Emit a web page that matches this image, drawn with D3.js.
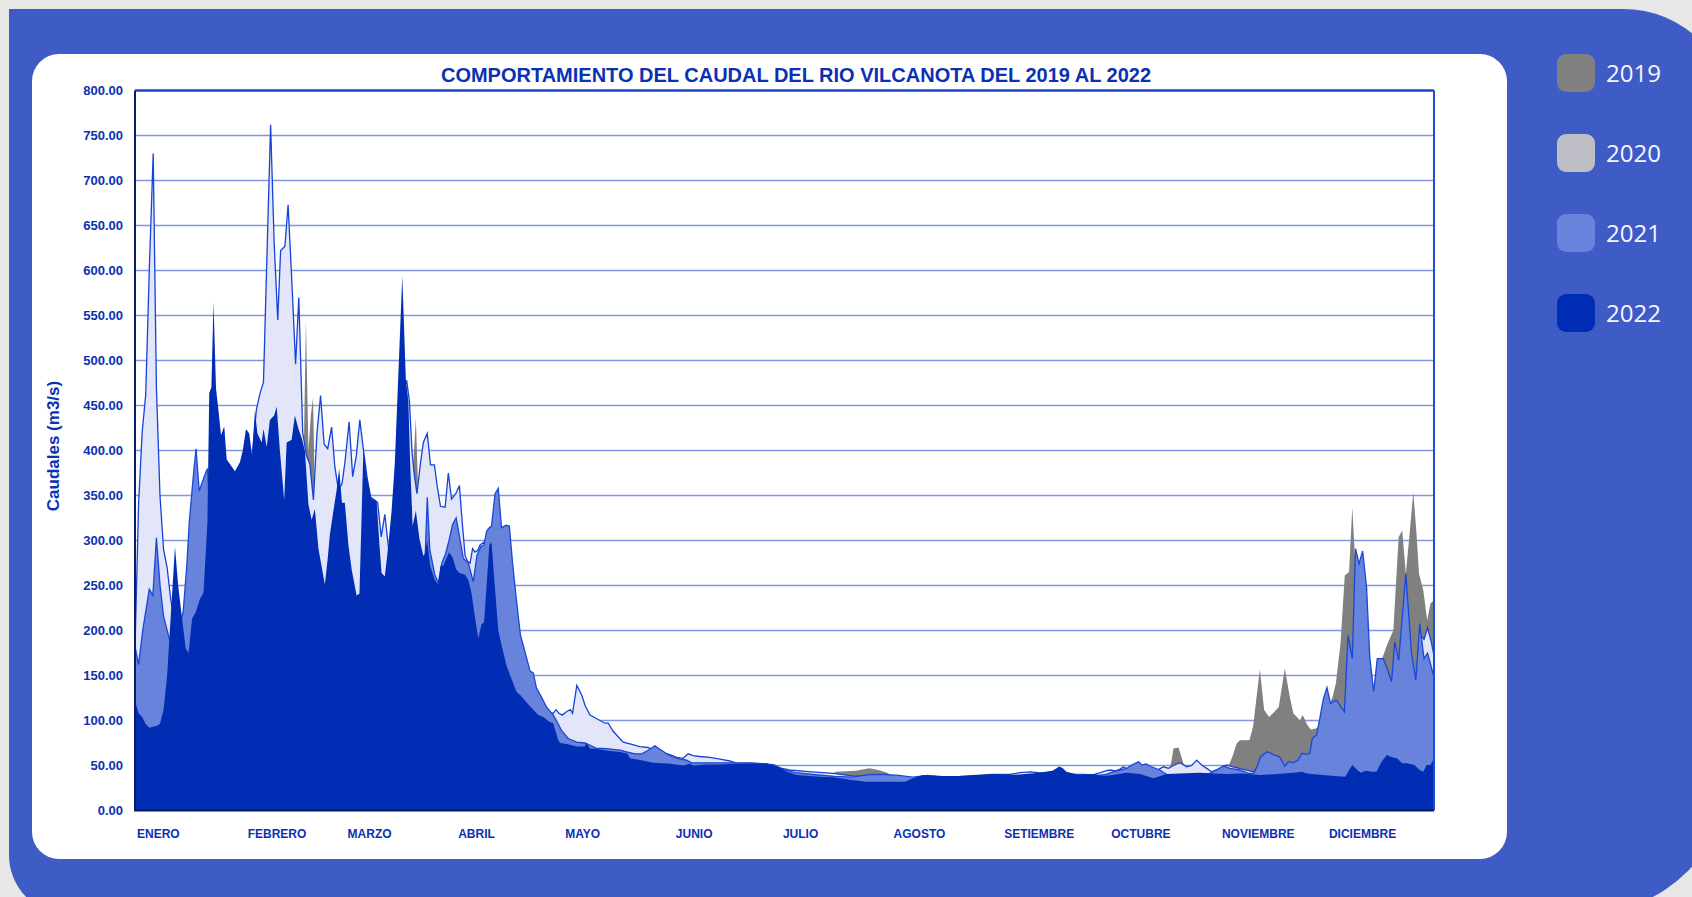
<!DOCTYPE html>
<html>
<head>
<meta charset="utf-8">
<script src="https://cdn.jsdelivr.net/npm/d3@7"></script>
<style>
  body { margin: 0; background: #e7e7e7; }
  svg { display: block; }
</style>
</head>
<body>
<svg id="chart"></svg>
<script>
// month labels and the day of year where each one starts
const monthNames = ["ENERO", "FEBRERO", "MARZO", "ABRIL", "MAYO", "JUNIO", "JULIO",
                    "AGOSTO", "SETIEMBRE", "OCTUBRE", "NOVIEMBRE", "DICIEMBRE"];
const monthStartDays = [0, 31, 59, 90, 120, 151, 181, 212, 243, 273, 304, 334];
const yTicks = d3.range(0, 801, 50);
const years = ["2019", "2020", "2021", "2022"];

// daily flow as [day of year, m3/s] at each turning point
const flow2019 = [
  [0,150],[5,140],[10,150],[14,150],[17,160],[20,200],[22,220],[25,250],[30,280],[35,300],[40,320],[44,330],
  [46,370],[47.3,400],[47.9,545],[48.6,400],[49.3,440],[49.9,459],[50.4,345],[51,300],[52,250],[55,260],[60,240],
  [62,230],[65,255],[70,240],[75,280],[77.5,360],[78.2,400],[78.7,436],[79.3,360],[80,300],[85,240],[90,230],
  [95,200],[100,200],[105,180],[108,150],[111,120],[115,95],[120,72],[125,68],[130,62],[140,55],[150,50],[160,47],
  [170,48],[178,47],[183,40],[190,38],[195,40],[196.5,43],[202,44.3],[205.8,47],[208.3,45],[210.8,42],[213,36],
  [220,35],[230,36],[240,37],[250,38],[260,38],[270,37],[280,38],[288,40],[290,45],[291,69],[292.4,70],[293.8,52.3],
  [295,47],[300,38],[305,40],[306.5,50],[307.7,62],[308.7,74.5],[309.6,78],[311,78],[312.3,78.3],[313.3,93],
  [315.2,157],[316.4,111.6],[317.8,104],[319.3,109.7],[320.5,115],[322.2,157.8],[323.6,126],[324.6,107.8],
  [325.6,104],[326.4,100],[327.2,106],[328.5,95],[329.5,90],[330.9,91],[332,93],[333.5,110],[335.5,125],
  [336.5,141],[337.8,185.5],[339,261],[340.2,265],[341.1,337],[341.8,285],[343,260],[344,200],[345.5,150],
  [347,120],[348.5,160],[349.8,172.5],[351,185.5],[352.6,200],[354.1,304],[355.1,311],[356.1,263],[357,300],
  [358.2,353.7],[359.1,307.5],[359.8,263],[361,244.7],[362.1,211.4],[363,229.9],[364,234]
];

const flow2020 = [
  [0,180],[1,340],[2,420],[3,462],[4,600],[5.1,730],[6,470],[7,350],[8,290],[9,270],[10,235],[10.8,215],
  [11.5,200],[14,160],[17,200],[20,250],[25,300],[30,330],[32.5,380],[33,400],[34,445],[35,463],[36,476],
  [37,620],[38,762],[39,630],[40,545],[40.8,622],[42,627],[42.9,673],[43.9,592],[45,496],[45.9,570],[47,420],
  [48,395],[49,385],[50,345],[51,420],[52,461],[53,407],[54,402],[55.1,426],[56,382],[57,356],[58,363],
  [58.8,386],[60,432],[61,371],[62,394],[63,434],[64,401],[65,371],[66,348],[66.8,346],[68,342],[69,304],
  [70,329],[71,293],[72,300],[74,380],[75.5,470],[76.1,478],[76.9,455],[77.6,400],[78.2,375],[79,352],[80,386],
  [80.8,409],[81.9,419],[82.8,384],[83.9,384],[84.7,360],[85.6,338],[86.9,337],[87.8,375],[88.7,346],
  [89.9,352],[90.9,361],[91.7,320],[92.5,283],[93.2,277],[93.9,275],[94.6,291],[95.3,287],[96,289],[96.7,295],
  [97.8,298],[99,290],[102,250],[106,200],[110,140],[114,112],[117.2,108],[118,112],[118.8,108],[119.7,106],
  [121,110],[122,112],[122.6,108],[123.8,139],[125.2,128],[126.1,117],[127.5,106],[130.3,100],[131.7,97],
  [132.6,97],[134,88],[135.4,82],[136.8,76],[138.7,74],[141.5,71],[143.8,70],[145.2,67],[147.1,65],[149.9,62],
  [151.8,59],[153.6,58],[155,63],[156.4,61],[158.3,60],[161.1,59],[163.9,57],[166.7,55],[169,52],[172.3,53],
  [175.1,52],[178.9,51],[181,47],[183.3,45],[189.6,43],[195.8,41.3],[200.8,38.4],[205,38],[210,37],[215,36],
  [220,35],[225,36],[230,37],[235,38],[240,40],[245,40],[248,42],[250.9,43],[253,42],[256,41],[260,40],[265,38],
  [268,39],[270.5,42],[272,44],[273.2,45],[274.8,44],[276,46],[277,48.6],[279,44],[282,40],[285,42],[287,46],
  [288.2,48.6],[289.6,46.8],[291,50],[292.8,53.1],[294.7,48.6],[296.1,50],[297.5,56],[298.9,50.5],[300.3,46.8],
  [301.7,43],[303.5,46],[305.9,50.5],[307.7,48.6],[310.6,45.7],[313.4,43],[314.6,48.6],[315.2,50.5],[316,45],
  [329,45],[333,70],[338,100],[342,115],[345,120],[350,125],[355,130],[358,135],[359,140],[360,196],
  [361.2,190],[362.2,203],[363.2,188],[364,172]
];

const flow2021 = [
  [0,182],[1,162],[2.2,201],[4,246],[5,239],[6,303],[7,251],[8,216],[9.6,191],[10.5,175],[11.5,180],[12.5,205],
  [13.5,221],[14.5,271],[15.2,320],[16.3,370],[17.1,402],[18,355],[19.3,370],[20.3,380],[21,330],[25,300],
  [30,280],[35,280],[40,270],[45,260],[50,230],[55,230],[60,225],[62,220],[65,230],[70,230],[75,240],[80,245],
  [81.2,270],[81.9,348],[82.6,290],[84,262],[85,253],[86,275],[87,285],[88,300],[89,318],[90,325],[90.9,305],
  [92,280],[93.4,275],[94.8,254],[95.8,283],[96.9,293],[97.8,295],[98.5,310],[99.2,314],[99.9,316],
  [100.9,352],[101.8,358],[102.7,314],[103.9,317],[104.9,316],[105.8,275],[106.9,233],[108,195],[109.3,176],
  [110.7,155],[111.6,153],[112.5,136],[113.9,126],[115.3,115],[117.2,106],[118.1,100],[119.5,89],[121.4,80],
  [123.8,76],[126.1,75],[129.3,69],[131.2,69],[134,68],[135.9,67],[137.8,65],[140.1,63],[142,63],[143.8,67],
  [145.7,72],[147.1,68],[149,63],[150.4,60],[152.7,57],[154.6,56],[156,53],[160,53],[165,53],[170,53],[177,52],
  [181,46],[185,42],[190,40],[196,38],[201,37],[204,39],[206,40],[210,40],[214,39],[218,37],[222,39],[228,37],
  [232,38],[240,38],[250,39],[257,42],[262,40],[266,40],[270,39],[272,40],[274.1,43],[276,45],[277.9,46.8],
  [279.3,50.5],[281.2,54.2],[282.2,50.5],[283.3,51.6],[284.8,48.6],[287.2,45],[288.6,41.2],[290,38],[295,38],
  [300,39],[303.1,45],[305,49.4],[306.8,46.8],[309.6,45],[312,41.2],[313.5,41.3],[314.4,48.7],[315.4,59.8],
  [317.2,65.3],[319.3,61.6],[320.7,59.8],[322.2,49.4],[323.2,54.2],[324.6,53.1],[325.9,56],[327,63.5],
  [328,62.7],[329.2,63.5],[329.9,80],[331.1,84],[331.9,100],[333,124],[334,136.7],[335,119],[335.8,120.8],
  [336.7,122.6],[337.9,115.2],[338.9,109.7],[339.9,194.7],[341.1,168.8],[342,290.9],[343,274.2],[344,288.3],
  [345.1,248.3],[346,170.7],[347.1,131.9],[348.1,168.8],[349.8,168.8],[350.9,157.7],[352.1,143],[353,187.3],
  [354.1,167],[356.1,263.1],[357.7,174.4],[358.9,144.8],[360,207.7],[361.2,168.8],[362.2,175],[363.2,160],
  [364,148]
];

const flow2022 = [
  [0,122],[1,108],[2,104],[3,96],[4,92],[5,93],[6,94],[7,96],[8,112],[9,150],[10,215],[11.2,293],[12.1,250],
  [13.1,216],[14.2,180],[15,175],[16,213],[17,220],[18.2,235],[19.2,242],[20.3,320],[20.8,464],[21.4,470],
  [22,565],[22.7,469],[23.4,444],[24.1,417],[25,427],[25.7,390],[26.6,385],[28,377],[29.4,387],[30.2,400],
  [31.1,424],[32,419],[32.8,395],[33.6,444],[34.3,419],[35.5,409],[36,424],[36.9,404],[37.8,434],[39,439],
  [39.7,449],[40.6,400],[41.8,345],[42.5,409],[43.9,412],[44.8,439],[45.8,424],[46.7,414],[47.6,400],[48.6,340],
  [49.5,323],[50.4,335],[51.4,291],[52.3,271],[53.2,251],[54,280],[54.6,306],[55.6,333],[56.5,356],[57.2,380],
  [58,342],[58.8,342],[59.8,295],[60.7,268],[62.1,239],[62.9,241],[64,401],[64.9,371],[66.3,346],[67.7,344],
  [68.5,295],[69.1,264],[70,260],[71,295],[71.9,333],[72.8,386],[73.8,485],[74.9,594],[75.9,478],[76.6,455],
  [77.1,386],[77.8,316],[78.7,333],[79.7,302],[80.8,283],[81.2,285],[81.9,300],[82.7,272],[84,256],[85,251],
  [85.6,272],[86.4,272],[88,287],[89,281],[90,268],[90.9,264],[92.5,262],[93.4,256],[94.3,241],[95.3,214],
  [96.2,191],[97.1,207],[97.8,209],[98.5,249],[99.3,295],[99.9,298],[100.8,250],[101.8,200],[102.7,184],
  [104.1,161],[105.5,146],[106.9,132],[108,128],[110,119],[111.6,112],[113,106],[114.4,104],[116,99],[117.2,97],
  [118.6,78],[119.1,75],[121,74],[123.8,71],[126,71],[126.5,75],[127.5,69],[130,68],[133,66],[136,65],[138,63],
  [138.7,58],[141.5,56],[145.2,53],[150,52],[153.6,50],[155.5,52],[156.5,50],[160,51],[164,51],[168,52],[173,52],
  [177,52],[179,50],[181,47],[182.6,43],[185.4,39.5],[189,38.4],[192,37.6],[195.8,37],[200.8,34],[205,32],
  [210.8,32],[215.8,32],[218,35.8],[220.8,39.5],[225,38.4],[230.9,38.4],[234.6,39.5],[240,40.6],[245.9,39.5],
  [252,41.3],[257.1,44.3],[259,49],[260,47],[261,43],[264.6,39.5],[268.5,40.5],[271.3,38.3],[274,39.4],
  [277.9,42],[281.6,40.5],[285.4,35.7],[289.1,40.5],[292.8,41.2],[298.4,42],[302.2,41.2],[305.9,40.5],[310,41.2],
  [315.2,39.4],[319.9,40.5],[324.6,42],[327,43.1],[328.3,41.2],[332.9,39.4],[336,38.3],[339.1,37.6],
  [341.1,50.5],[342.5,45],[343.5,42],[344.9,44.3],[346.5,43],[347.9,43.1],[349.3,54.2],[350.8,61.6],
  [351.9,59.8],[353.7,57.9],[355.1,52.4],[356.5,52.4],[358.5,50.5],[360,45],[361,43.1],[361.9,50.5],[363,50.5],
  [364,58]
];

const seriesList = [flow2019, flow2020, flow2021, flow2022];
const fillColors = ["#808080", "#e3e6f9", "#6783db", "#002db3"];
const swatchColors = ["#808080", "#bdbec6", "#6783db", "#002db5"];
const edgeColors = [null, "#1543d6", "#1a47d8", null];

const W = 1692, H = 897;
const plot = { left: 135, right: 1434, top: 90.5, bottom: 810.5 };
const ink = "#0a31b3";

const svg = d3.select("#chart").attr("width", W).attr("height", H);

// outer blue card, square top-left, rounded elsewhere
svg.append("path")
   .attr("d", "M9,9 H1623 A110,110 0 0 1 1733,119 V763 A152,152 0 0 1 1581,915 H69 A60,60 0 0 1 9,855 Z")
   .attr("fill", "#3f5bc6");

svg.append("rect")
   .attr("x", 32).attr("y", 54)
   .attr("width", 1475).attr("height", 805)
   .attr("rx", 27)
   .attr("fill", "#ffffff");

const xScale = d3.scaleLinear().domain([0, 364]).range([plot.left, plot.right]);
const yScale = d3.scaleLinear().domain([0, 800]).range([plot.bottom, plot.top]);

// gridlines
svg.append("g")
   .selectAll("line")
   .data(yTicks.filter(v => v > 0))
   .enter()
   .append("line")
   .attr("x1", plot.left).attr("x2", plot.right)
   .attr("y1", d => yScale(d)).attr("y2", d => yScale(d))
   .attr("stroke", "#7f97e3")
   .attr("stroke-width", 1.6);

const area = d3.area()
               .x(d => xScale(d[0]))
               .y0(yScale(0))
               .y1(d => yScale(d[1]));
const line = d3.line()
               .x(d => xScale(d[0]))
               .y(d => yScale(d[1]));

seriesList.forEach((s, i) => {
    svg.append("path")
       .datum(s)
       .attr("d", area)
       .attr("fill", fillColors[i]);
    if (edgeColors[i]) {
        svg.append("path")
           .datum(s)
           .attr("d", line)
           .attr("fill", "none")
           .attr("stroke", edgeColors[i])
           .attr("stroke-width", 1.3)
           .attr("stroke-linejoin", "miter");
    }
});

// frame: blue on top/right, dark axis lines on left/bottom
svg.append("line")
   .attr("x1", plot.left).attr("x2", plot.right)
   .attr("y1", plot.top).attr("y2", plot.top)
   .attr("stroke", "#1d4bd6").attr("stroke-width", 2.5);
svg.append("line")
   .attr("x1", plot.right).attr("x2", plot.right)
   .attr("y1", plot.top).attr("y2", plot.bottom)
   .attr("stroke", "#1d4bd6").attr("stroke-width", 2);
svg.append("line")
   .attr("x1", plot.left).attr("x2", plot.left)
   .attr("y1", plot.top).attr("y2", plot.bottom)
   .attr("stroke", "#071c63").attr("stroke-width", 2);
svg.append("line")
   .attr("x1", plot.left - 1).attr("x2", plot.right)
   .attr("y1", plot.bottom).attr("y2", plot.bottom)
   .attr("stroke", "#071c63").attr("stroke-width", 2);

// y tick labels
const yAxis = d3.axisLeft(yScale)
                .tickValues(yTicks)
                .tickFormat(d3.format(".2f"))
                .tickSize(0)
                .tickPadding(12);
const yAxisG = svg.append("g")
                  .attr("transform", `translate(${plot.left},0)`)
                  .call(yAxis);
yAxisG.select(".domain").remove();
yAxisG.selectAll("text")
      .attr("fill", ink)
      .style("font", "bold 13px 'Liberation Sans', Arial, sans-serif");

// month labels, left aligned at month start
svg.append("g")
   .selectAll("text")
   .data(monthNames)
   .enter()
   .append("text")
   .attr("x", (d, i) => xScale(monthStartDays[i]) + 2)
   .attr("y", 838)
   .attr("fill", ink)
   .style("font", "bold 12px 'Liberation Sans', Arial, sans-serif")
   .text(d => d);

svg.append("text")
   .attr("transform", "translate(59,446) rotate(-90)")
   .attr("text-anchor", "middle")
   .attr("fill", ink)
   .style("font", "bold 17px 'Liberation Sans', Arial, sans-serif")
   .text("Caudales (m3/s)");

svg.append("text")
   .attr("x", 796).attr("y", 82)
   .attr("text-anchor", "middle")
   .attr("fill", ink)
   .style("font", "bold 20px 'Liberation Sans', Arial, sans-serif")
   .text("COMPORTAMIENTO DEL CAUDAL DEL RIO VILCANOTA DEL 2019 AL 2022");

// legend on the blue card
const legend = svg.append("g")
                  .selectAll("g")
                  .data(years)
                  .enter()
                  .append("g")
                  .attr("transform", (d, i) => `translate(1557,${54 + i * 80})`);
legend.append("rect")
      .attr("width", 38).attr("height", 38)
      .attr("rx", 9)
      .attr("fill", (d, i) => swatchColors[i]);
legend.append("text")
      .attr("x", 49).attr("y", 19)
      .attr("dy", "0.36em")
      .attr("fill", "#f4f6ff")
      .style("font", "24px 'Open Sans', 'Noto Sans', sans-serif")
      .text(d => d);
</script>
</body>
</html>
